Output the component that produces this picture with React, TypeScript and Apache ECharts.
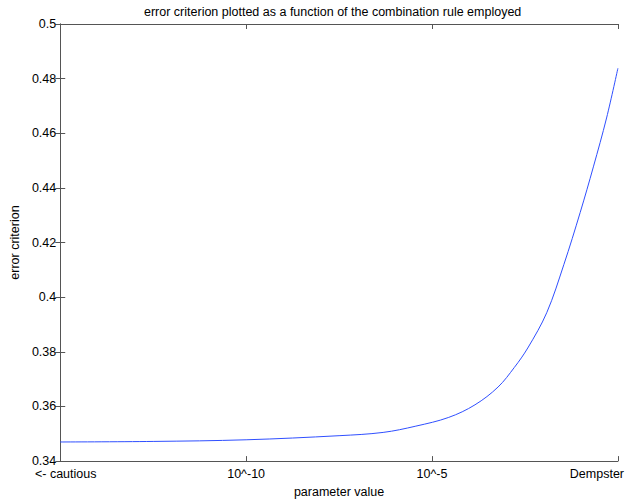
import React, { useEffect, useRef } from "react";
import * as echarts from "echarts";

const tickLabels = ["<- cautious", "10^-10", "10^-5", "Dempster"];
const xPositions = [0, 0.5, 1, 1.5, 1.737, 1.913, 2.09, 2.231, 2.355, 2.443, 2.515, 2.617, 2.709, 2.797, 2.868, 2.939, 3];
const errorValues = [0.347, 0.3472, 0.3478, 0.3493, 0.3505, 0.3528, 0.356, 0.3606, 0.3671, 0.3743, 0.3814, 0.3943, 0.4119, 0.431, 0.4477, 0.4656, 0.4838];
const yTicks = [0.34, 0.36, 0.38, 0.4, 0.42, 0.44, 0.46, 0.48, 0.5];

const FONT = "Liberation Sans, Arial, Helvetica, sans-serif";
const FS = 12.5;

export default function App() {
  const ref = useRef<HTMLDivElement>(null);
  useEffect(() => {
    if (!ref.current) return;
    const chart = echarts.init(ref.current, undefined, { renderer: "svg" });
    const axisLine = { show: true, lineStyle: { color: "#555", width: 1 } };
    const axisTick = { show: true, inside: true, length: 5, lineStyle: { color: "#555" } };
    chart.setOption({
      animation: false,
      backgroundColor: "#fff",
      title: {
        text: "error criterion plotted as a function of the combination rule employed",
        left: 144,
        top: 5,
        padding: 0,
        textStyle: { fontSize: FS, fontWeight: "normal", color: "#000", fontFamily: FONT },
      },
      grid: { left: 53, right: 9, top: 24, bottom: 32, containLabel: false },
      xAxis: [
        {
          type: "value",
          min: 0,
          max: 3,
          interval: 1,
          name: "parameter value",
          nameLocation: "middle",
          nameGap: 19,
          nameTextStyle: { fontSize: FS, color: "#000", fontFamily: FONT },
          axisLine,
          axisTick,
          splitLine: { show: false },
          axisLabel: {
            margin: 6,
            fontSize: FS,
            color: "#000",
            fontFamily: FONT,
            formatter: (v: number) => {
              const i = Math.round(v);
              if (i === 0) return "{a|" + tickLabels[0] + "}";
              if (i === tickLabels.length - 1) return "{b|" + tickLabels[i] + "}";
              return tickLabels[i] ?? "";
            },
            rich: {
              a: { fontSize: FS, color: "#000", fontFamily: FONT, padding: [0, 0, 0, 11] },
              b: { fontSize: FS, color: "#000", fontFamily: FONT, padding: [0, 42, 0, 0] },
            },
          },
        },
        {
          type: "value",
          position: "top",
          min: 0,
          max: 3,
          interval: 1,
          axisLine,
          axisTick,
          axisLabel: { show: false },
          splitLine: { show: false },
        },
      ],
      yAxis: [
        {
          type: "value",
          min: yTicks[0],
          max: yTicks[yTicks.length - 1],
          interval: 0.02,
          name: "error criterion",
          nameLocation: "middle",
          nameGap: 34,
          nameTextStyle: { fontSize: FS, color: "#000", fontFamily: FONT },
          axisLine,
          axisTick,
          splitLine: { show: false },
          axisLabel: {
            margin: 4,
            fontSize: FS,
            color: "#000",
            fontFamily: FONT,
            formatter: (v: number) => String(parseFloat(v.toFixed(2))),
          },
        },
        {
          type: "value",
          position: "right",
          min: yTicks[0],
          max: yTicks[yTicks.length - 1],
          interval: 0.02,
          axisLine,
          axisTick,
          axisLabel: { show: false },
          splitLine: { show: false },
        },
      ],
      series: [
        {
          type: "line",
          data: xPositions.map((x, i) => [x, errorValues[i]]),
          smooth: 0.35,
          showSymbol: false,
          lineStyle: { color: "#2f4fff", width: 1 },
        },
      ],
    });
    return () => chart.dispose();
  }, []);
  return <div ref={ref} style={{ width: 627, height: 503, position: "absolute", left: 0, top: 0 }} />;
}
